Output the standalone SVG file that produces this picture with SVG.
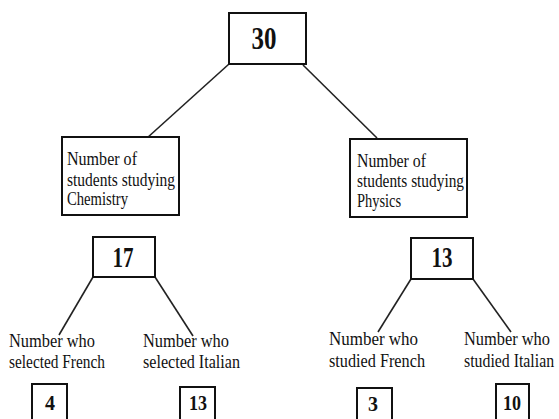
<svg xmlns="http://www.w3.org/2000/svg" width="559" height="419" viewBox="0 0 559 419">
<style>
.box{fill:#fff;stroke:#111;stroke-width:2}
.ln{stroke:#222;stroke-width:1.6;fill:none}
.num{font-family:"Liberation Serif",serif;font-weight:bold;fill:#111;text-anchor:middle}
.lbl{font-family:"Liberation Serif",serif;font-size:18px;fill:#111}
</style>
<rect width="559" height="419" fill="#fff"/>
<g id="connectors">
<line class="ln" x1="229" y1="64" x2="147" y2="138"/>
<line class="ln" x1="303" y1="65" x2="377" y2="138"/>
<line class="ln" x1="93" y1="277" x2="59" y2="335"/>
<line class="ln" x1="155" y1="277" x2="193" y2="336"/>
<line class="ln" x1="411" y1="279" x2="378" y2="332"/>
<line class="ln" x1="473" y1="279" x2="511" y2="332"/>
</g>
<g id="n30">
<rect class="box" x="229" y="13" width="77" height="51"/>
<text class="num" x="264" y="49" font-size="31" textLength="25" lengthAdjust="spacingAndGlyphs">30</text>
</g>
<g id="chem">
<rect class="box" x="62" y="137" width="117" height="78"/>
<text class="lbl" x="67" y="165" textLength="70" lengthAdjust="spacingAndGlyphs">Number of</text>
<text class="lbl" x="67" y="186" textLength="108" lengthAdjust="spacingAndGlyphs">students studying</text>
<text class="lbl" x="67" y="205" textLength="61" lengthAdjust="spacingAndGlyphs">Chemistry</text>
</g>
<g id="phys">
<rect class="box" x="350" y="139" width="117" height="78"/>
<text class="lbl" x="357" y="167" textLength="69" lengthAdjust="spacingAndGlyphs">Number of</text>
<text class="lbl" x="357" y="187" textLength="107" lengthAdjust="spacingAndGlyphs">students studying</text>
<text class="lbl" x="357" y="207" textLength="44" lengthAdjust="spacingAndGlyphs">Physics</text>
</g>
<g id="n17">
<rect class="box" x="93" y="237" width="62" height="40"/>
<text class="num" x="123" y="267" font-size="29" textLength="21" lengthAdjust="spacingAndGlyphs">17</text>
</g>
<g id="n13a">
<rect class="box" x="411" y="238" width="62" height="41"/>
<text class="num" x="442" y="267" font-size="29" textLength="21" lengthAdjust="spacingAndGlyphs">13</text>
</g>
<g id="selFrench">
<text class="lbl" x="9" y="347" textLength="86" lengthAdjust="spacingAndGlyphs">Number who</text>
<text class="lbl" x="9" y="368" textLength="96" lengthAdjust="spacingAndGlyphs">selected French</text>
</g>
<g id="selItalian">
<text class="lbl" x="143" y="347" textLength="86" lengthAdjust="spacingAndGlyphs">Number who</text>
<text class="lbl" x="143" y="368" textLength="97" lengthAdjust="spacingAndGlyphs">selected Italian</text>
</g>
<g id="studFrench">
<text class="lbl" x="329" y="345" textLength="89" lengthAdjust="spacingAndGlyphs">Number who</text>
<text class="lbl" x="329" y="367" textLength="96" lengthAdjust="spacingAndGlyphs">studied French</text>
</g>
<g id="studItalian">
<text class="lbl" x="464" y="345" textLength="86" lengthAdjust="spacingAndGlyphs">Number who</text>
<text class="lbl" transform="translate(464,367) scale(0.88,1)">studied Italian</text>
</g>
<g id="n4">
<rect class="box" x="32" y="384" width="35" height="45"/>
<text class="num" x="50" y="410" font-size="22" textLength="10" lengthAdjust="spacingAndGlyphs">4</text>
</g>
<g id="n13b">
<rect class="box" x="180" y="387" width="35" height="45"/>
<text class="num" x="198" y="410" font-size="22" textLength="18" lengthAdjust="spacingAndGlyphs">13</text>
</g>
<g id="n3">
<rect class="box" x="357" y="388" width="35" height="45"/>
<text class="num" x="373" y="411" font-size="22" textLength="10" lengthAdjust="spacingAndGlyphs">3</text>
</g>
<g id="n10">
<rect class="box" x="496" y="384" width="33" height="45"/>
<text class="num" x="512" y="410" font-size="22" textLength="18" lengthAdjust="spacingAndGlyphs">10</text>
</g>
</svg>
